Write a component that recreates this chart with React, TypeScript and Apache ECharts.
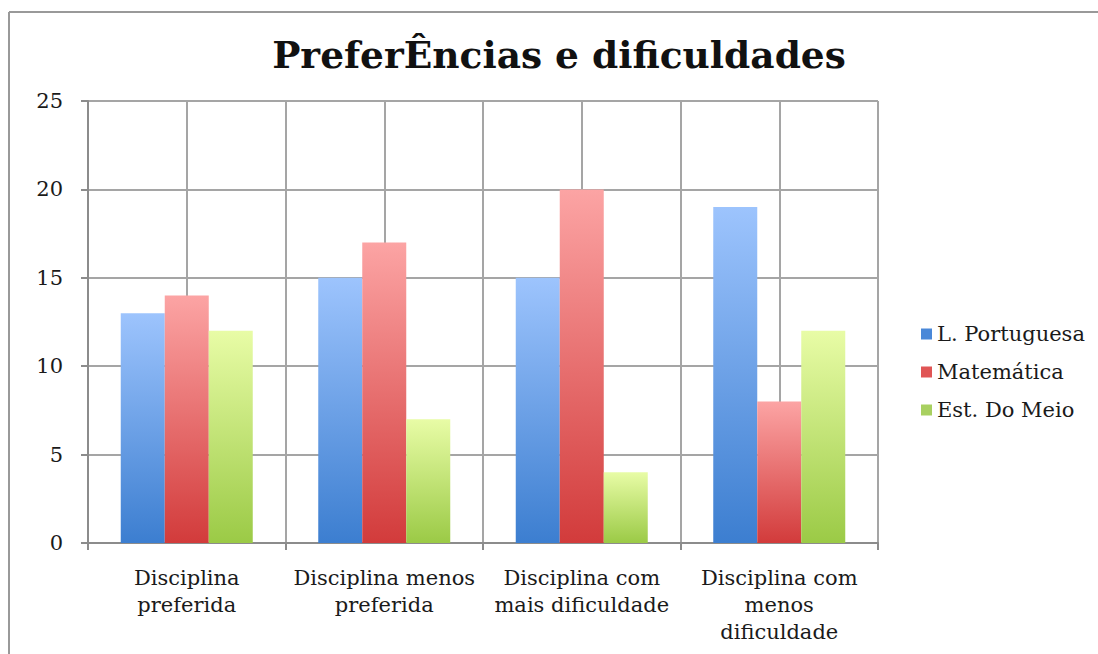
import React, { useEffect, useRef } from "react";
import * as echarts from "echarts";

const categories = [
  "Disciplina\npreferida",
  "Disciplina menos\npreferida",
  "Disciplina com\nmais dificuldade",
  "Disciplina com\nmenos\ndificuldade",
];
const portuguesa = [13, 15, 15, 19];
const matematica = [14, 17, 20, 8];
const estMeio = [12, 7, 4, 12];
const seriesNames = ["L. Portuguesa", "Matemática", "Est. Do Meio"];
const yTicks = [0, 5, 10, 15, 20, 25];

const FONT = "DejaVu Serif";

function grad(top: string, bottom: string) {
  return new echarts.graphic.LinearGradient(0, 0, 0, 1, [
    { offset: 0, color: top },
    { offset: 1, color: bottom },
  ]);
}

export default function App() {
  const ref = useRef<HTMLDivElement>(null);
  useEffect(() => {
    const chart = echarts.init(ref.current!, null, { renderer: "svg" });
    const colors = [
      grad("#9dc4fd", "#3c7ed0"),
      grad("#fca4a4", "#d23b3b"),
      grad("#e8fca6", "#9bca46"),
    ];
    const legendColors = ["#4a88d8", "#e05555", "#a8d060"];
    chart.setOption({
      animation: false,
      textStyle: { fontFamily: FONT },
      graphic: [
        {
          type: "line",
          shape: { x1: 9, y1: 12, x2: 1098, y2: 12 },
          style: { stroke: "#999", lineWidth: 2 },
        },
        {
          type: "line",
          shape: { x1: 9, y1: 12, x2: 9, y2: 654 },
          style: { stroke: "#999", lineWidth: 2 },
        },
        {
          type: "text",
          x: 559,
          y: 55,
          style: {
            text: "PreferÊncias e dificuldades",
            font: `bold 37.5px "${FONT}"`,
            fill: "#111",
            align: "center",
            verticalAlign: "middle",
          },
        },
      ],
      legend: {
        orient: "vertical",
        left: 916,
        top: 318,
        itemWidth: 11,
        itemHeight: 11,
        itemGap: 16,
        textStyle: { fontFamily: FONT, fontSize: 21, color: "#1a1a1a", lineHeight: 22 },
        data: seriesNames.map((n, i) => ({
          name: n,
          icon: "rect",
          itemStyle: { color: legendColors[i] },
        })),
      },
      grid: { left: 88, right: 1098 - 878, top: 101, bottom: 654 - 543, containLabel: false },
      xAxis: [
        {
          type: "category",
          data: categories,
          axisLine: { show: true, lineStyle: { color: "#8c8c8c", width: 2 } },
          axisTick: { show: true, length: 7, lineStyle: { color: "#8c8c8c", width: 2 } },
          axisLabel: {
            fontFamily: FONT,
            fontSize: 21,
            color: "#1a1a1a",
            lineHeight: 27,
            margin: 21,
            interval: 0,
          },
          splitLine: { show: false },
        },
        {
          type: "value",
          min: 0,
          max: 4,
          interval: 0.5,
          position: "bottom",
          axisLine: { show: false },
          axisTick: { show: false },
          axisLabel: { show: false },
          splitLine: { show: true, lineStyle: { color: "#a5a5a5", width: 2 } },
        },
      ],
      yAxis: {
        type: "value",
        min: 0,
        max: 25,
        interval: 5,
        axisLine: { show: true, lineStyle: { color: "#8c8c8c", width: 2 } },
        axisTick: { show: true, length: 7, lineStyle: { color: "#8c8c8c", width: 2 } },
        axisLabel: {
          fontFamily: FONT,
          fontSize: 21,
          color: "#1a1a1a",
          margin: 25,
          formatter: (v: number) => (yTicks.includes(v) ? String(v) : ""),
        },
        splitLine: { show: true, lineStyle: { color: "#a5a5a5", width: 2 } },
      },
      series: [portuguesa, matematica, estMeio].map((d, i) => ({
        name: seriesNames[i],
        type: "bar",
        xAxisIndex: 0,
        data: d,
        barWidth: 44,
        barGap: "0%",
        itemStyle: { color: colors[i] },
      })),
    });
    return () => chart.dispose();
  }, []);
  return (
    <div
      ref={ref}
      style={{ position: "absolute", left: 0, top: 0, width: 1098, height: 654, background: "#fff" }}
    />
  );
}
